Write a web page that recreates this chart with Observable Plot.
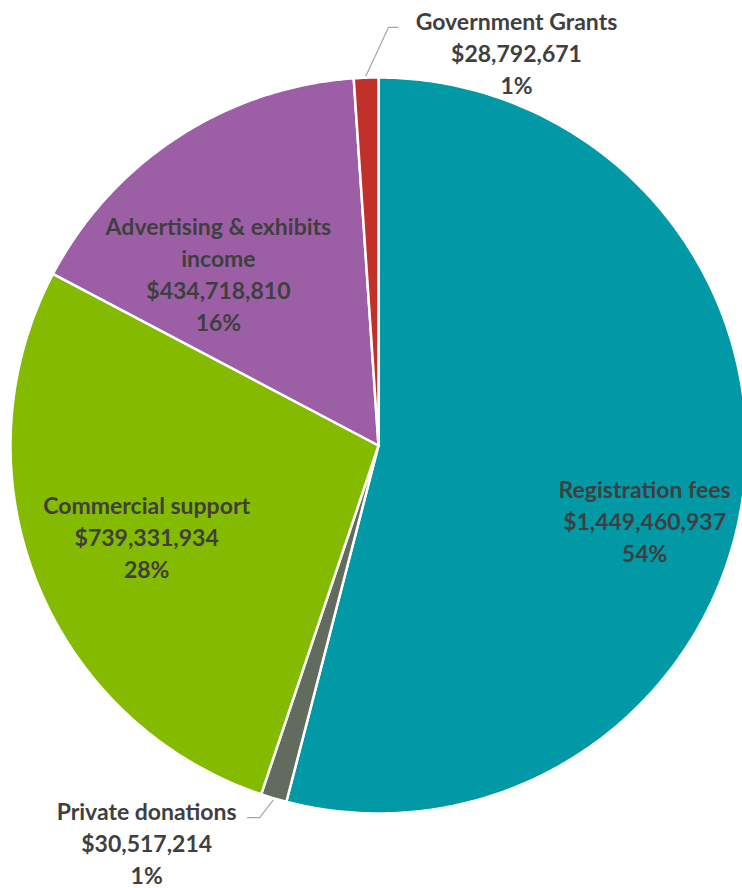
<!DOCTYPE html>
<html><head><meta charset="utf-8">
<script src="https://cdn.jsdelivr.net/npm/d3@7"></script>
<script src="https://cdn.jsdelivr.net/npm/@observablehq/plot@0.6"></script>
<style>body{margin:0;background:#fff}</style>
</head><body><div id="chart"></div>
<script>
// ---- data ----
const categories = ["Registration fees","Private donations","Commercial support","Advertising & exhibits income","Government Grants"];
const values = [1449460937, 30517214, 739331934, 434718810, 28792671];
const percentLabels = ["54%","1%","28%","16%","1%"];
const labelNames = ["Registration fees","Private donations","Commercial support","Advertising & exhibits\nincome","Government Grants"];
const colors = ["#0299a6","#616b5e","#84ba00","#9c5fa5","#c1312a"];

// ---- layout (unit-circle coordinates) ----
const W = 742, H = 888, cx = 378, cy = 445, R = 368;
const labelPos = [[0.723,-0.201],[-0.630,-1.076],[-0.630,-0.245],[-0.435,0.470],[0.375,1.071]];
const leaderElbows = {"Government Grants": [[0.027,1.136],[0.052,1.136]], "Private donations": [[-0.323,-1.011],[-0.356,-1.011]]};

const arcs = d3.pie().sort(null)(values);
const slicePts = [];
arcs.forEach((a, i) => {
  slicePts.push({name: categories[i], x: 0, y: 0});
  const n = Math.max(4, Math.ceil((a.endAngle - a.startAngle) / (Math.PI/360)));
  for (let k = 0; k <= n; k++) {
    const t = a.startAngle + (a.endAngle - a.startAngle) * k / n;
    slicePts.push({name: categories[i], x: Math.sin(t), y: Math.cos(t)});
  }
});
const fmt = d3.format("$,");
const labels = categories.map((c, i) => ({
  text: `${labelNames[i]}\n${fmt(values[i])}\n${percentLabels[i]}`,
  x: labelPos[i][0], y: labelPos[i][1]
}));
const leaderPts = [];
arcs.forEach((a, i) => {
  const el = leaderElbows[categories[i]];
  if (!el) return;
  const m = (a.startAngle + a.endAngle) / 2;
  leaderPts.push({name: categories[i], x: Math.sin(m)*1.005, y: Math.cos(m)*1.005});
  el.forEach(p => leaderPts.push({name: categories[i], x: p[0], y: p[1]}));
});

const chart = Plot.plot({
  width: W, height: H, margin: 0,
  style: {fontFamily: "Lato, 'Open Sans', sans-serif", background: "#fff"},
  x: {domain: [-cx/R, (W-cx)/R], range: [0, W], axis: null},
  y: {domain: [cy/R, -(H-cy)/R], range: [0, H], axis: null},
  color: {domain: categories, range: colors},
  marks: [
    Plot.line(slicePts, {x: "x", y: "y", z: "name", fill: "name", stroke: "#fff", strokeWidth: 2.5, curve: "linear-closed"}),
    Plot.line(leaderPts, {x: "x", y: "y", z: "name", stroke: "#a6a6a6", strokeWidth: 1.2}),
    Plot.text(labels, {x: "x", y: "y", text: "text", fill: "#3f3f3f", fontSize: 23, fontWeight: "bold", lineHeight: 1.39, lineAnchor: "middle", textAnchor: "middle"})
  ]
});
document.getElementById("chart").appendChild(chart);
</script>
</body></html>
